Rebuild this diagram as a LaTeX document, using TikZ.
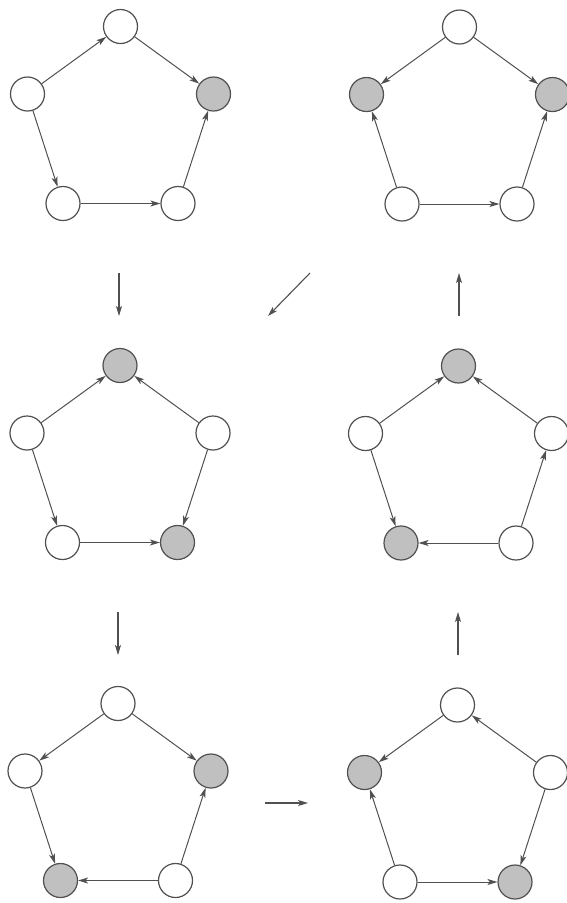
\documentclass[tikz,border=0pt]{standalone}
\usetikzlibrary{arrows.meta}
\definecolor{ink}{HTML}{505050}
\definecolor{shade}{HTML}{C0C0C0}
\tikzset{
  x=1pt, y=-1pt,
  st/.style={circle, draw=ink, line width=1.2pt, fill=white, minimum size=34pt, inner sep=0pt},
  hot/.style={st, fill=shade},
  ed/.style={draw=ink, line width=1pt, -{Stealth[length=10pt,width=6pt,inset=2.5pt]}},
  mv/.style={draw=ink, line width=1.1pt, -{Stealth[length=10pt,width=6pt,inset=2.5pt]}}
}
\newcommand{\mypent}[8]{%
  \node[#4] (#1T) at (#2,#3) {};
  \node[#5] (#1L) at (#2-93,#3+67.5) {};
  \node[#6] (#1R) at (#2+93,#3+67.5) {};
  \node[#7] (#1A) at (#2-57.5,#3+177) {};
  \node[#8] (#1B) at (#2+57.5,#3+177) {};
}
\begin{document}
\begin{tikzpicture}
\useasboundingbox (0,0) rectangle (566,903);
% pentagon 1 (top left)
\mypent{a}{120.5}{26.5}{st}{st}{hot}{st}{st}
\draw[ed] (aL) -- (aT);
\draw[ed] (aT) -- (aR);
\draw[ed] (aL) -- (aA);
\draw[ed] (aA) -- (aB);
\draw[ed] (aB) -- (aR);
% pentagon 2 (top right)
\mypent{b}{459.5}{27}{st}{hot}{hot}{st}{st}
\draw[ed] (bT) -- (bL);
\draw[ed] (bT) -- (bR);
\draw[ed] (bA) -- (bL);
\draw[ed] (bA) -- (bB);
\draw[ed] (bB) -- (bR);
% pentagon 3 (middle left)
\mypent{c}{120}{365.5}{hot}{st}{st}{st}{hot}
\draw[ed] (cL) -- (cT);
\draw[ed] (cR) -- (cT);
\draw[ed] (cL) -- (cA);
\draw[ed] (cR) -- (cB);
\draw[ed] (cA) -- (cB);
% pentagon 4 (middle right)
\mypent{d}{458.5}{366}{hot}{st}{st}{hot}{st}
\draw[ed] (dL) -- (dT);
\draw[ed] (dR) -- (dT);
\draw[ed] (dL) -- (dA);
\draw[ed] (dB) -- (dA);
\draw[ed] (dB) -- (dR);
% pentagon 5 (bottom left)
\mypent{e}{118}{703.5}{st}{st}{hot}{hot}{st}
\draw[ed] (eT) -- (eL);
\draw[ed] (eT) -- (eR);
\draw[ed] (eL) -- (eA);
\draw[ed] (eB) -- (eA);
\draw[ed] (eB) -- (eR);
% pentagon 6 (bottom right)
\mypent{f}{457.5}{705}{st}{hot}{st}{st}{hot}
\draw[ed] (fT) -- (fL);
\draw[ed] (fR) -- (fT);
\draw[ed] (fA) -- (fL);
\draw[ed] (fR) -- (fB);
\draw[ed] (fA) -- (fB);
% transition arrows
\coordinate (m1s) at (119,273); \coordinate (m1e) at (119,316);
\coordinate (m2s) at (310,273); \coordinate (m2e) at (268,316);
\coordinate (m3s) at (459,316); \coordinate (m3e) at (459,273);
\coordinate (m4s) at (118,612); \coordinate (m4e) at (118,655);
\coordinate (m5s) at (458,655); \coordinate (m5e) at (458,612);
\coordinate (m6s) at (265,803); \coordinate (m6e) at (308,803);
\draw[mv] (m1s) -- (m1e);
\draw[mv] (m2s) -- (m2e);
\draw[mv] (m3s) -- (m3e);
\draw[mv] (m4s) -- (m4e);
\draw[mv] (m5s) -- (m5e);
\draw[mv] (m6s) -- (m6e);
\end{tikzpicture}
\end{document}
